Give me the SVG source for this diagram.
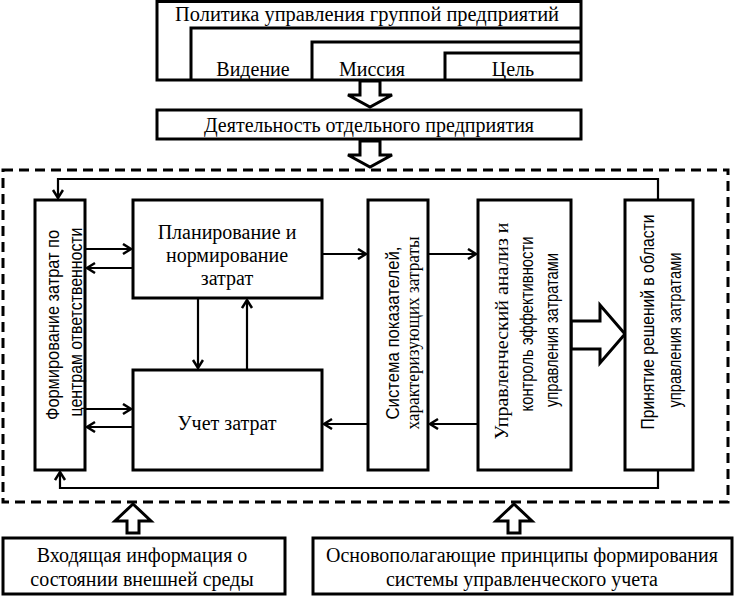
<svg xmlns="http://www.w3.org/2000/svg" width="736" height="596" viewBox="0 0 736 596">
<defs>
<style>
.box{fill:#fff;stroke:#000;stroke-width:3}
.ln{fill:none;stroke:#000;stroke-width:3}
.cn{fill:none;stroke:#000;stroke-width:2.2}
.blk{fill:#fff;stroke:#000;stroke-width:3;stroke-linejoin:miter}
.dash{fill:none;stroke:#000;stroke-width:3;stroke-dasharray:10 6}
.s{font-family:"Liberation Serif","Times New Roman",serif;font-size:20px;fill:#000;text-anchor:middle}
.a{font-family:"Liberation Sans",Arial,sans-serif;font-size:18px;fill:#000;text-anchor:middle}
.sv{font-family:"Liberation Serif","Times New Roman",serif;font-size:19px;fill:#000;text-anchor:middle}
</style>
<marker id="ah" markerUnits="userSpaceOnUse" markerWidth="14" markerHeight="14" refX="10" refY="6" orient="auto">
<path d="M2,1 L10,6 L2,11" fill="none" stroke="#000" stroke-width="2.5"/>
</marker>
</defs>

<g id="policy">
<rect class="box" x="157" y="1.5" width="424" height="78.5"/>
<path class="ln" d="M191,80 V28 H581 M312,80 V42 H581 M445,80 V53 H581"/>
<text class="s" x="367" y="21" textLength="384" lengthAdjust="spacingAndGlyphs">Политика управления группой предприятий</text>
<text class="s" x="253" y="76">Видение</text>
<text class="s" x="372" y="76">Миссия</text>
<text class="s" x="513" y="76">Цель</text>
</g>

<g id="arrow-policy">
<polygon class="blk" points="360,81 380,81 380,95 392,95 370,107 348,95 360,95"/>
</g>

<g id="activity">
<rect class="box" x="157" y="110" width="424" height="29"/>
<text class="s" x="369" y="132">Деятельность отдельного предприятия</text>
</g>

<g id="arrow-activity">
<polygon class="blk" points="360,141 380,141 380,155 392,155 370,167 348,155 360,155"/>
</g>

<g id="frame">
<rect class="dash" x="3" y="170" width="725" height="332"/>
</g>

<g id="connectors">
<path class="cn" d="M658,200 V179 H58 V198" marker-end="url(#ah)"/>
<path class="cn" d="M658,470 V488 H60 V472" marker-end="url(#ah)"/>
<path class="cn" d="M85,249 H131" marker-end="url(#ah)"/>
<path class="cn" d="M133,268 H87" marker-end="url(#ah)"/>
<path class="cn" d="M85,409 H131" marker-end="url(#ah)"/>
<path class="cn" d="M133,427 H87" marker-end="url(#ah)"/>
<path class="cn" d="M198,298 V368" marker-end="url(#ah)"/>
<path class="cn" d="M247,370 V300" marker-end="url(#ah)"/>
<path class="cn" d="M322,254 H366" marker-end="url(#ah)"/>
<path class="cn" d="M428,254 H476" marker-end="url(#ah)"/>
<path class="cn" d="M478,424 H430" marker-end="url(#ah)"/>
<path class="cn" d="M368,424 H324" marker-end="url(#ah)"/>
<polygon class="blk" points="571,321 600,321 600,305 625,334 600,363 600,349 571,349"/>
<polygon class="blk" points="127,533 139,533 139,521 151,521 133,504 115,521 127,521"/>
<polygon class="blk" points="508,533 520,533 520,521 532,521 514,504 496,521 508,521"/>
</g>

<g id="responsibility">
<rect class="box" x="35" y="200" width="50" height="270"/>
<text class="a" transform="translate(59,325) rotate(-90)" y="0" textLength="190" lengthAdjust="spacingAndGlyphs">Формирование затрат по</text>
<text class="a" transform="translate(82,322) rotate(-90)" y="0" textLength="189" lengthAdjust="spacingAndGlyphs">центрам ответственности</text>
</g>

<g id="planning">
<rect class="box" x="133" y="200" width="189" height="98"/>
<text class="s" x="227" y="239">Планирование и</text>
<text class="s" x="227" y="262">нормирование</text>
<text class="s" x="227" y="285">затрат</text>
</g>

<g id="accounting">
<rect class="box" x="133" y="370" width="189" height="100"/>
<text class="s" x="227" y="430">Учет затрат</text>
</g>

<g id="indicators">
<rect class="box" x="368" y="200" width="60" height="270"/>
<text class="a" transform="translate(399,333) rotate(-90)" y="0" textLength="173" lengthAdjust="spacingAndGlyphs">Система показателей,</text>
<text class="sv" transform="translate(419,333) rotate(-90)" y="0" textLength="193" lengthAdjust="spacingAndGlyphs">характеризующих затраты</text>
</g>

<g id="analysis">
<rect class="box" x="478" y="200" width="93" height="270"/>
<text class="sv" transform="translate(508,331) rotate(-90)" y="0" textLength="217" lengthAdjust="spacingAndGlyphs">Управленческий анализ и</text>
<text class="a" transform="translate(533,324) rotate(-90)" y="0" textLength="175" lengthAdjust="spacingAndGlyphs">контроль эффективности</text>
<text class="a" transform="translate(558,330) rotate(-90)" y="0" textLength="154" lengthAdjust="spacingAndGlyphs">управления затратами</text>
</g>

<g id="decision">
<rect class="box" x="625" y="200" width="68" height="270"/>
<text class="a" transform="translate(654,322) rotate(-90)" y="0" textLength="215" lengthAdjust="spacingAndGlyphs">Принятие решений в области</text>
<text class="a" transform="translate(681,330) rotate(-90)" y="0" textLength="155" lengthAdjust="spacingAndGlyphs">управления затратами</text>
</g>

<g id="environment">
<rect class="box" x="3" y="538" width="282" height="56"/>
<text class="s" x="142" y="562">Входящая информация о</text>
<text class="s" x="142" y="586">состоянии внешней среды</text>
</g>

<g id="principles">
<rect class="box" x="313" y="538" width="419" height="56"/>
<text class="s" x="522" y="562">Основополагающие принципы формирования</text>
<text class="s" x="522" y="586">системы управленческого учета</text>
</g>
</svg>
